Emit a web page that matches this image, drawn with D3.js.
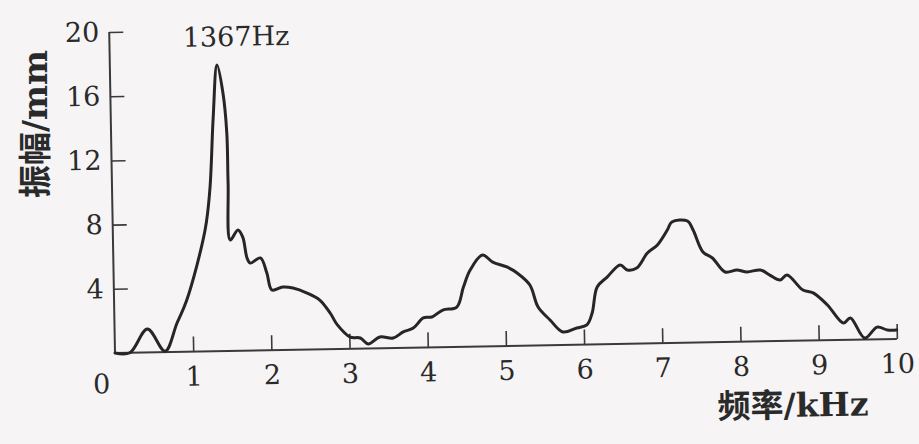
<!DOCTYPE html>
<html><head><meta charset="utf-8">
<script src="https://cdn.jsdelivr.net/npm/d3@7/dist/d3.min.js"></script>
<style>html,body{margin:0;padding:0;background:#f6f4f5;}svg{display:block;}</style>
</head><body><svg id="c" width="919" height="444"></svg>
<script>
const freqKHz = [0,0.19,0.42,0.64,0.80,0.93,1.18,1.25,1.31,1.37,1.44,1.48,1.485,1.50,1.60,1.66,1.71,1.75,1.88,1.96,2.02,2.16,2.29,2.47,2.63,2.76,2.85,3.01,3.14,3.24,3.39,3.56,3.69,3.82,3.95,4.06,4.20,4.38,4.47,4.56,4.72,4.85,5.03,5.16,5.32,5.42,5.57,5.73,5.91,6.04,6.11,6.18,6.31,6.48,6.57,6.69,6.83,6.96,7.09,7.15,7.35,7.42,7.54,7.66,7.82,7.97,8.10,8.27,8.39,8.52,8.61,8.81,8.94,9.12,9.32,9.41,9.59,9.75,9.88,10.0];
const ampMM   = [0,0,1.46,0.05,1.80,3.22,7.56,10.05,14.6,17.83,16.08,13.58,10.47,6.91,7.53,7.08,5.77,5.45,5.76,4.81,3.75,3.92,3.85,3.52,3.07,2.25,1.50,0.73,0.66,0.28,0.70,0.62,0.99,1.22,1.84,1.89,2.31,2.48,3.72,4.77,5.69,5.24,4.92,4.53,3.77,2.39,1.57,0.81,1.04,1.22,1.96,3.57,4.18,4.92,4.60,4.71,5.63,6.12,7.04,7.54,7.58,7.01,5.63,5.25,4.36,4.47,4.34,4.45,4.12,3.80,4.11,3.15,2.96,2.19,1.05,1.36,0.09,0.76,0.57,0.56];
const xTickVals = [1,2,3,4,5,6,7,8,9,10];
const yTickVals = [4,8,12,16,20];
const peakLabel = "1367Hz";
const xTitle = "频率/kHz";
const yTitle = "振幅/mm";

const svg = d3.select("#c");
svg.append("rect").attr("width",919).attr("height",444).attr("fill","#f6f4f5");
const g = svg.append("g").attr("transform","translate(115,353) rotate(-1.03)");
const x = d3.scaleLinear().domain([0,10]).range([0,782]);
const y = d3.scaleLinear().domain([0,20]).range([0,-321]);
const ink = "#3a3a3a";
const txt = "#2a2a2a";
const numFont = "'DejaVu Serif', serif";

// x axis
const xAxis = d3.axisBottom(x).tickValues(xTickVals).tickSize(-15).tickPadding(0).tickFormat(d3.format("d"));
const gx = g.append("g").call(xAxis);
gx.select(".domain").attr("d","M0,0H"+x(10)).attr("stroke",ink).attr("stroke-width",2);
gx.selectAll(".tick line").attr("stroke",ink).attr("stroke-width",1.6);
gx.selectAll(".tick text").attr("y",34).attr("dy",0).attr("fill",txt)
  .style("font-family",numFont).style("font-size","27px");
g.append("text").attr("x",-14).attr("y",40).attr("text-anchor","middle").attr("fill",txt)
  .style("font-family",numFont).style("font-size","27px").text("0");

// y axis
const yAxis = d3.axisLeft(y).tickValues(yTickVals).tickSize(-14).tickPadding(10).tickFormat(d3.format("d"));
const gy = g.append("g").call(yAxis);
gy.select(".domain").attr("d","M0,0V"+y(20)).attr("stroke",ink).attr("stroke-width",2);
gy.selectAll(".tick line").attr("stroke",ink).attr("stroke-width",1.6);
gy.selectAll(".tick text").attr("x",-10).attr("fill",txt)
  .style("font-family",numFont).style("font-size","27px");

// curve
const pts = freqKHz.map((f,i)=>[f,ampMM[i]]);
const line = d3.line().x(d=>x(d[0])).y(d=>y(d[1])).curve(d3.curveCatmullRom.alpha(0.5));
g.append("path").datum(pts).attr("d",line).attr("fill","none")
  .attr("stroke","#262626").attr("stroke-width",3).attr("stroke-linejoin","round").attr("stroke-linecap","round");

// annotation
g.append("text").attr("x",x(1.62)).attr("y",y(19.0)).attr("text-anchor","middle").attr("fill",txt)
  .style("font-family",numFont).style("font-size","27px").text(peakLabel);

// titles
g.append("text").attr("x",677).attr("y",76).attr("text-anchor","middle").attr("fill",txt)
  .style("font-family","'DejaVu Serif','Noto Sans CJK SC',serif").style("font-size","33px").style("font-weight","bold")
  .text(xTitle);
svg.append("text").attr("transform","translate(47,124) rotate(-90)").attr("text-anchor","middle").attr("fill",txt)
  .style("font-family","'DejaVu Serif','Noto Sans CJK SC',serif").style("font-size","33px").style("font-weight","bold")
  .text(yTitle);
</script></body></html>
